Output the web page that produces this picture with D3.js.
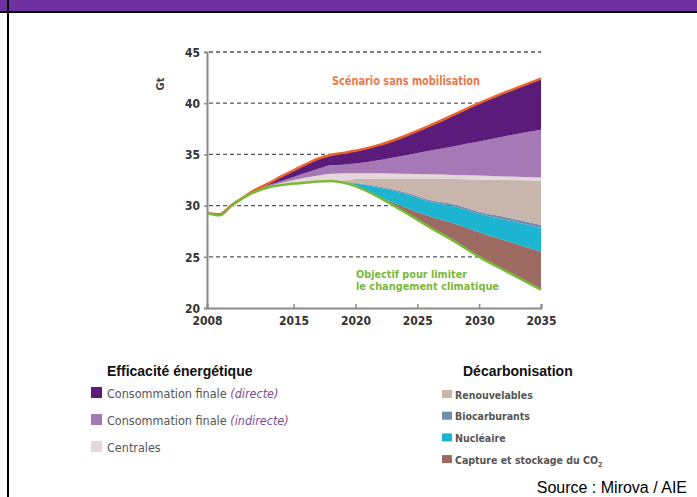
<!DOCTYPE html>
<html>
<head>
<meta charset="utf-8">
<script src="https://cdn.jsdelivr.net/npm/d3@7"></script>
<style>
  body { margin: 0; background: #fff; }
  svg { display: block; }
  .narrow { font-family: "Liberation Sans Narrow", "DejaVu Sans Condensed", "Arial Narrow", sans-serif; }
</style>
</head>
<body>
<div id="chart"></div>
<script>
// years on the x axis
var years = [2008, 2009, 2010, 2011, 2012, 2013, 2014, 2015, 2016, 2017, 2018, 2019, 2020, 2022, 2024, 2026, 2028, 2030, 2032, 2035];

// "Objectif" line (bottom of the wedges), Gt
var objectif = [29.3, 29.05, 30.0, 30.8, 31.4, 31.8, 32.0, 32.15, 32.25, 32.35, 32.4, 32.25, 31.9, 30.75, 29.35, 27.9, 26.5, 25.0, 23.7, 21.8];

// wedge thicknesses, Gt (stacked from the bottom up)
var ccs        = [0, 0, 0, 0, 0, 0, 0, 0, 0, 0, 0, 0, 0, 0.1, 0.5, 1.05, 1.75, 2.4, 2.95, 3.7];
var nucleaire  = [0, 0, 0, 0, 0, 0, 0, 0, 0, 0, 0, 0.05, 0.25, 0.9, 1.3, 1.45, 1.65, 1.8, 2.0, 2.3];
var biocarb    = [0, 0, 0, 0, 0, 0, 0, 0, 0, 0, 0, 0, 0.05, 0.1, 0.15, 0.15, 0.2, 0.2, 0.25, 0.3];
var renouv     = [0, 0, 0, 0, 0, 0, 0, 0, 0, 0, 0, 0.15, 0.4, 0.8, 1.35, 2.1, 2.5, 3.15, 3.6, 4.35];
var centrales  = [0, 0, 0, 0, 0.05, 0.1, 0.2, 0.35, 0.5, 0.6, 0.7, 0.7, 0.55, 0.5, 0.45, 0.4, 0.4, 0.4, 0.35, 0.3];
var indirecte  = [0, 0, 0, 0, 0.05, 0.1, 0.2, 0.3, 0.45, 0.65, 0.85, 0.85, 0.95, 1.3, 1.8, 2.3, 2.8, 3.3, 3.9, 4.65];
var directe    = [0, 0.1, 0.05, 0.05, 0.1, 0.2, 0.45, 0.65, 0.85, 1.0, 1.0, 1.15, 1.25, 1.5, 1.9, 2.45, 3.1, 3.75, 4.25, 5.0];

var yTicks = [20, 25, 30, 35, 40, 45];
var xTicks = [2008, 2015, 2020, 2025, 2030, 2035];

var keys = ["objectif", "ccs", "nucleaire", "biocarb", "renouv", "centrales", "indirecte", "directe"];
var colors = {
  ccs: "#9c6a61",
  nucleaire: "#1cb4d0",
  biocarb: "#6e8db0",
  renouv: "#c8b6ac",
  centrales: "#e4d8da",
  indirecte: "#a678b5",
  directe: "#5b1b7b"
};

var legendLeft = [
  { key: "directe", text: "Consommation finale ", em: "(directe)" },
  { key: "indirecte", text: "Consommation finale ", em: "(indirecte)" },
  { key: "centrales", text: "Centrales", em: "" }
];
var legendRight = [
  { key: "renouv", text: "Renouvelables" },
  { key: "biocarb", text: "Biocarburants" },
  { key: "nucleaire", text: "Nucléaire" },
  { key: "ccs", text: "Capture et stockage du CO" }
];

var rows = years.map(function(yr, i) {
  return {
    year: yr, objectif: objectif[i], ccs: ccs[i], nucleaire: nucleaire[i], biocarb: biocarb[i],
    renouv: renouv[i], centrales: centrales[i], indirecte: indirecte[i], directe: directe[i]
  };
});

var W = 697, H = 497;
var svg = d3.select("#chart").append("svg")
  .attr("width", W)
  .attr("height", H);

// frame: purple banner, black rule, left border
svg.append("rect").attr("x", 0).attr("y", 0).attr("width", W).attr("height", 11).attr("fill", "#7030a0");
svg.append("rect").attr("x", 0).attr("y", 11).attr("width", W).attr("height", 2).attr("fill", "#000");
svg.append("rect").attr("x", 7).attr("y", 0).attr("width", 2).attr("height", H).attr("fill", "#000");

var x = d3.scaleLinear().domain([2008, 2035]).range([207, 541]);
var y = d3.scaleLinear().domain([20, 45]).range([308, 52]);

// dashed grid lines
svg.append("g")
  .selectAll("line")
  .data(yTicks.slice(1))
  .enter()
  .append("line")
    .attr("x1", x(2008) + 2)
    .attr("x2", x(2035))
    .attr("y1", function(d) { return y(d); })
    .attr("y2", function(d) { return y(d); })
    .attr("stroke", "#555")
    .attr("stroke-width", 1.3)
    .attr("stroke-dasharray", "4,3");

var series = d3.stack().keys(keys)(rows);

var area = d3.area()
  .x(function(d) { return x(d.data.year); })
  .y0(function(d) { return y(d[0]); })
  .y1(function(d) { return y(d[1]); })
  .curve(d3.curveMonotoneX);

svg.append("g")
  .selectAll("path")
  .data(series.filter(function(s) { return s.key !== "objectif"; }))
  .enter()
  .append("path")
    .attr("d", area)
    .attr("fill", function(s) { return colors[s.key]; });

var line = d3.line()
  .x(function(d) { return x(d.data.year); })
  .y(function(d) { return y(d[1]); })
  .curve(d3.curveMonotoneX);

// scenario (top) and objective (bottom) lines
svg.append("path")
  .datum(series[series.length - 1])
  .attr("d", line)
  .attr("fill", "none")
  .attr("stroke", "#e8642c")
  .attr("stroke-width", 2.5);
svg.append("path")
  .datum(series[0])
  .attr("d", line)
  .attr("fill", "none")
  .attr("stroke", "#7ab83a")
  .attr("stroke-width", 2.5);

// axes
var yAxis = svg.append("g")
  .attr("class", "narrow")
  .attr("transform", "translate(" + x(2008) + ",0)")
  .call(d3.axisLeft(y).tickValues(yTicks).tickSize(3).tickPadding(4));
var xAxis = svg.append("g")
  .attr("class", "narrow")
  .attr("transform", "translate(0," + y(20) + ")")
  .call(d3.axisBottom(x).tickValues(xTicks).tickFormat(d3.format("d")).tickSize(-4).tickPadding(6));

[yAxis, xAxis].forEach(function(ax) {
  ax.select(".domain").attr("stroke", "#8a8a8a").attr("stroke-width", 2);
  ax.selectAll(".tick line").attr("stroke", "#8a8a8a").attr("stroke-width", 1.5);
  ax.selectAll("text")
    .attr("fill", "#333")
    .style("font-size", "12px")
    .style("font-weight", "bold");
});
yAxis.selectAll("text").attr("dy", "0.35em");
xAxis.selectAll("text").attr("dy", "0.9em");

svg.append("text")
  .attr("class", "narrow")
  .attr("transform", "translate(164,84)rotate(-90)")
  .attr("text-anchor", "middle")
  .style("font-size", "11px")
  .style("font-weight", "bold")
  .attr("fill", "#444")
  .text("Gt");

// annotations
svg.append("text")
  .attr("class", "narrow")
  .attr("x", 332).attr("y", 85)
  .attr("textLength", 148)
  .attr("lengthAdjust", "spacingAndGlyphs")
  .style("font-size", "12px")
  .style("font-weight", "bold")
  .attr("fill", "#e8784a")
  .text("Scénario sans mobilisation");
svg.append("text")
  .attr("class", "narrow")
  .attr("x", 356).attr("y", 278)
  .attr("textLength", 111)
  .attr("lengthAdjust", "spacingAndGlyphs")
  .style("font-size", "10px")
  .style("font-weight", "bold")
  .attr("fill", "#7ab83a")
  .text("Objectif pour limiter");
svg.append("text")
  .attr("class", "narrow")
  .attr("x", 356).attr("y", 290)
  .attr("textLength", 143)
  .attr("lengthAdjust", "spacingAndGlyphs")
  .style("font-size", "10px")
  .style("font-weight", "bold")
  .attr("fill", "#7ab83a")
  .text("le changement climatique");

// legend, left block
svg.append("text")
  .attr("x", 107).attr("y", 376)
  .style("font-family", "Arial, 'Liberation Sans', sans-serif")
  .style("font-size", "14px")
  .style("font-weight", "bold")
  .attr("fill", "#111")
  .text("Efficacité énergétique");

var lg1 = svg.append("g").selectAll("g")
  .data(legendLeft)
  .enter()
  .append("g")
    .attr("transform", function(d, i) { return "translate(91," + (387 + i * 27) + ")"; });
lg1.append("rect")
  .attr("width", 11).attr("height", 11)
  .attr("fill", function(d) { return colors[d.key]; });
var t1 = lg1.append("text")
  .attr("class", "narrow")
  .attr("x", 16).attr("y", 10.5)
  .style("font-size", "12.5px")
  .attr("fill", "#555");
t1.append("tspan").text(function(d) { return d.text; });
t1.append("tspan")
  .style("font-style", "italic")
  .attr("fill", "#7b4f95")
  .text(function(d) { return d.em; });

// legend, right block
svg.append("text")
  .attr("x", 463).attr("y", 376)
  .style("font-family", "Arial, 'Liberation Sans', sans-serif")
  .style("font-size", "14px")
  .style("font-weight", "bold")
  .attr("fill", "#111")
  .text("Décarbonisation");

var lg2 = svg.append("g").selectAll("g")
  .data(legendRight)
  .enter()
  .append("g")
    .attr("transform", function(d, i) { return "translate(442," + (390 + i * 21.7) + ")"; });
lg2.append("rect")
  .attr("width", 10).attr("height", 8)
  .attr("fill", function(d) { return colors[d.key]; });
var t2 = lg2.append("text")
  .attr("class", "narrow")
  .attr("x", 13).attr("y", 8.5)
  .style("font-size", "10.5px")
  .style("font-weight", "bold")
  .attr("fill", "#555");
t2.append("tspan").text(function(d) { return d.text; });
t2.filter(function(d) { return d.key === "ccs"; })
  .append("tspan")
  .attr("dy", 3)
  .style("font-size", "7px")
  .text("2");

svg.append("text")
  .attr("x", 687).attr("y", 493)
  .attr("text-anchor", "end")
  .style("font-family", "Arial, 'Liberation Sans', sans-serif")
  .style("font-size", "16px")
  .attr("fill", "#000")
  .text("Source : Mirova / AIE");
</script>
</body>
</html>
